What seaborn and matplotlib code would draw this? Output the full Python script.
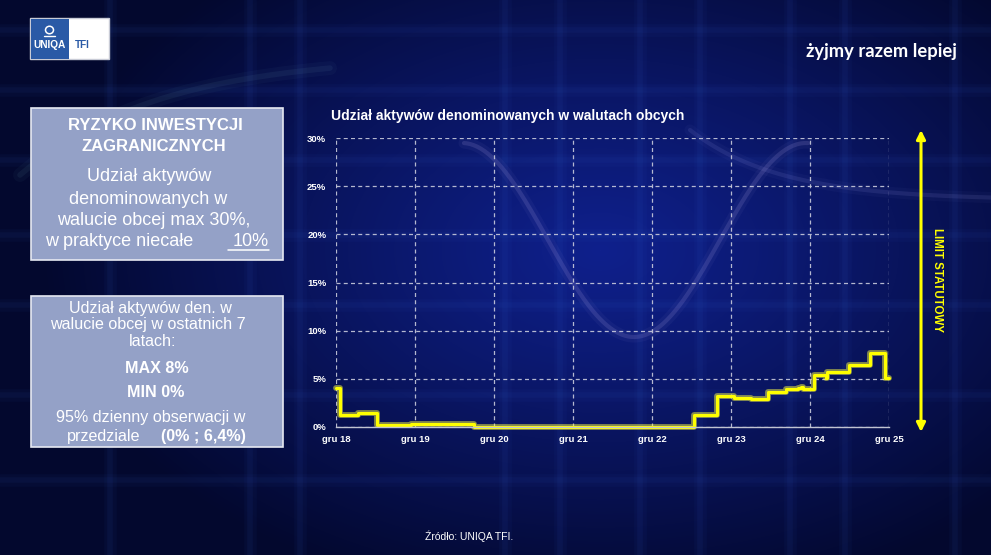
import numpy as np
import pandas as pd
import matplotlib
matplotlib.use("Agg")
import matplotlib.pyplot as plt
from matplotlib.patches import Rectangle, Ellipse
import seaborn as sns

# ---------------- data ----------------
dates = ["2018-12-01", "2018-12-21", "2019-03-13", "2019-06-09", "2019-11-15",
         "2020-03-01", "2020-04-15", "2020-09-01", "2021-06-01", "2022-07-01",
         "2023-06-12", "2023-09-30", "2023-12-15", "2024-03-01", "2024-05-19",
         "2024-08-13", "2024-10-08", "2024-10-19", "2024-10-28", "2024-12-17",
         "2025-02-12", "2025-02-17", "2025-05-30", "2025-09-03", "2025-11-11",
         "2025-12-01"]
values = [4.07, 1.28, 1.45, 0.24, 0.27,
          0.33, 0.28, 0.04, 0.02, 0.03,
          1.20, 3.20, 3.05, 2.95, 3.60,
          3.90, 4.05, 4.20, 3.97, 5.40,
          5.07, 5.76, 6.45, 7.65, 5.07,
          5.07]
y_ticks = [0, 5, 10, 15, 20, 25, 30]
y_tick_labels = ["0%", "5%", "10%", "15%", "20%", "25%", "30%"]
x_tick_dates = ["2018-12-01", "2019-12-01", "2020-12-01", "2021-12-01",
                "2022-12-01", "2023-12-01", "2024-12-01", "2025-12-01"]
x_tick_labels = ["gru 18", "gru 19", "gru 20", "gru 21", "gru 22",
                 "gru 23", "gru 24", "gru 25"]

title = "Udział aktywów denominowanych w walutach obcych"
box1_head = ["RYZYKO INWESTYCJI", "ZAGRANICZNYCH"]
box1_body = ["Udział aktywów", "denominowanych w", "walucie obcej max 30%,"]
box1_last = ["w praktyce niecałe", "10%"]
box2_lines = ["Udział aktywów den. w", "walucie obcej w ostatnich 7", "latach:"]
box2_bold = ["MAX 8%", "MIN 0%"]
box2_tail = ["95% dzienny obserwacji w", "przedziale", "(0% ; 6,4%)"]
slogan = "żyjmy razem lepiej"
source = "Źródło: UNIQA TFI."
limit_label = "LIMIT STATUTOWY"

df = pd.DataFrame({"date": pd.to_datetime(dates), "value": values})

# ---------------- style ----------------
sns.set_theme(style="dark")
plt.rcParams['font.family'] = ['Liberation Sans', 'DejaVu Sans']

W, H = 991, 555
fig = plt.figure(figsize=(W / 100, H / 100), dpi=100)

# background layer in pixel coordinates
bg = fig.add_axes([0, 0, 1, 1])
bg.set_xlim(0, W)
bg.set_ylim(H, 0)
bg.axis('off')
yy, xx = np.mgrid[0:H, 0:W]
d = np.sqrt(((xx - 600) / 560) ** 2 + ((yy - 250) / 360) ** 2)
t = np.clip(d, 0, 1) ** 1.1
c0 = np.array([15, 32, 140]) / 255
c1 = np.array([3, 8, 46]) / 255
img = c0[None, None, :] * (1 - t[..., None]) + c1[None, None, :] * t[..., None]
bg.imshow(img, extent=(0, W, H, 0), aspect='auto', zorder=0, interpolation='bilinear')

# faint blurred background grid / curves (decorative)
glow = (0.25, 0.45, 0.9)
for x in [110, 250, 300, 505, 560, 640, 700, 790, 845, 955]:
    for lw, a in [(9, 0.04), (4, 0.06)]:
        bg.plot([x, x], [0, H], color=glow, lw=lw, alpha=a, zorder=1)
for y in [30, 90, 160, 235, 305, 395, 480]:
    for lw, a in [(9, 0.04), (4, 0.05)]:
        bg.plot([0, W], [y, y], color=glow, lw=lw, alpha=a, zorder=1)
cx = np.linspace(464, 808, 300)
cy = 240 + 97 * np.cos(2 * np.pi * (cx - 634) / 344)
for lw, a in [(8, 0.05), (3, 0.16)]:
    bg.plot(cx, cy, color=(0.7, 0.65, 0.9), lw=lw, alpha=a, zorder=1,
            solid_capstyle='round')
cx3 = np.linspace(690, 991, 200)
cy3 = 130 + 70 * (1 - np.exp(-(cx3 - 690) / 90))
for lw, a in [(8, 0.04), (3, 0.12)]:
    bg.plot(cx3, cy3, color=(0.6, 0.6, 0.9), lw=lw, alpha=a, zorder=1)
cx2 = np.linspace(20, 330, 200)
cy2 = 175 - 120 * (1 - np.exp(-(cx2 - 20) / 140))
for lw, a in [(10, 0.04), (4, 0.07)]:
    bg.plot(cx2, cy2, color=(0.5, 0.75, 0.8), lw=lw, alpha=a, zorder=1)

# ---------------- logo ----------------
bg.add_patch(Rectangle((30, 18), 79, 41, facecolor='white', edgecolor='#c8cbd6',
                       lw=1, zorder=3))
bg.add_patch(Rectangle((30.5, 18.5), 38.5, 40, facecolor='#2a5aa6', edgecolor='none',
                       zorder=4))
bg.add_patch(Ellipse((49.5, 30), 8, 7.5, facecolor='none', edgecolor='white',
                     lw=1.1, zorder=5))
bg.plot([44, 55], [36, 36], color='white', lw=1.0, zorder=5)
bg.text(49.5, 45, "UNIQA", color='white', fontsize=7.3, fontweight='bold',
        ha='center', va='center', zorder=5)
bg.text(82, 45, "TFI", color='#2a5aa6', fontsize=7.2, fontweight='bold',
        ha='center', va='center', zorder=5)

# slogan
bg.text(881, 51, slogan, color='white', fontsize=13.2, fontweight='bold',
        family=['Lato', 'DejaVu Sans'], ha='center', va='center', zorder=5)

# ---------------- boxes ----------------
box_fc = '#94a1c7'
bg.add_patch(Rectangle((30.5, 107.5), 252, 152.5, facecolor=box_fc,
                       edgecolor='#e6e9f2', lw=1.2, zorder=3))
bg.add_patch(Rectangle((30.5, 296), 252, 151, facecolor=box_fc,
                       edgecolor='#e6e9f2', lw=1.2, zorder=3))

bg.text(155, 125, box1_head[0], color='white', fontsize=12, fontweight='bold',
        ha='center', va='center', zorder=5)
bg.text(154, 146.5, box1_head[1], color='white', fontsize=12, fontweight='bold',
        ha='center', va='center', zorder=5)
for yv, s, xc in zip([176.5, 199, 220.5], box1_body, [149, 148, 154]):
    bg.text(xc, yv, s, color='white', fontsize=13, ha='center', va='center', zorder=5)
bg.text(45, 241, box1_last[0], color='white', fontsize=13, ha='left',
        va='center', zorder=5)
bg.text(269, 241, box1_last[1], color='white', fontsize=13, ha='right',
        va='center', zorder=5)
bg.plot([228, 269], [249.5, 249.5], color='white', lw=1.1, zorder=5)

for yv, s, xc in zip([308.5, 325, 341.5], box2_lines, [150, 147.5, 152.5]):
    bg.text(xc, yv, s, color='white', fontsize=11.6, ha='center', va='center', zorder=5)
for yv, s, xc in zip([368.5, 392.5], box2_bold, [156.5, 155.5]):
    bg.text(xc, yv, s, color='white', fontsize=11.6, fontweight='bold',
            ha='center', va='center', zorder=5)
bg.text(151, 417.5, box2_tail[0], color='white', fontsize=11.6, ha='center',
        va='center', zorder=5)
bg.text(67, 437, box2_tail[1], color='white', fontsize=11.6, ha='left',
        va='center', zorder=5)
bg.text(246, 437, box2_tail[2], color='white', fontsize=11.6, fontweight='bold',
        ha='right', va='center', zorder=5)

# chart title
bg.text(331, 116, title, color='white', fontsize=10, fontweight='bold',
        ha='left', va='center', zorder=5)

# limit arrow
bg.annotate('', xy=(921, 130), xytext=(921, 432),
            arrowprops=dict(arrowstyle='<|-|>', color='#ffff00', lw=2.2,
                            mutation_scale=13, shrinkA=0, shrinkB=0), zorder=5)
bg.text(937, 280, limit_label, color='#ffff00', fontsize=8.3, fontweight='bold',
        rotation=-90, ha='center', va='center', zorder=5)

# source
bg.text(425, 536, source, color='white', fontsize=7.5, ha='left', va='center',
        zorder=5)

# ---------------- chart ----------------
ax = fig.add_axes([336 / W, 1 - 427 / H, 553 / W, 289 / H])
ax.set_facecolor('none')
ax.patch.set_alpha(0)

sns.lineplot(data=df, x="date", y="value", ax=ax, drawstyle='steps-post',
             color='#ffff40', linewidth=4.2, alpha=0.5, clip_on=False)
sns.lineplot(data=df, x="date", y="value", ax=ax, drawstyle='steps-post',
             color='#ffff00', linewidth=2.2, clip_on=False)

ax.set_xlim(pd.Timestamp(x_tick_dates[0]), pd.Timestamp(x_tick_dates[-1]))
ax.set_ylim(0, 30)
ax.set_yticks(y_ticks)
ax.set_yticklabels(y_tick_labels)
ax.set_xticks(pd.to_datetime(x_tick_dates))
ax.set_xticklabels(x_tick_labels)
ax.set_xlabel("")
ax.set_ylabel("")
ax.grid(True, color='#c9cbdc', linestyle=(0, (3.2, 2.6)), linewidth=0.9, alpha=0.9)
ax.set_axisbelow(True)
for side in ['top', 'right', 'left']:
    ax.spines[side].set_visible(False)
ax.spines['bottom'].set_visible(True)
ax.spines['bottom'].set_color('#c0c3d2')
ax.spines['bottom'].set_linewidth(1.0)
ax.tick_params(axis='both', length=0, colors='white', labelsize=6.8)
ax.tick_params(axis='y', pad=7)
ax.tick_params(axis='x', pad=6)
for lab in ax.get_xticklabels() + ax.get_yticklabels():
    lab.set_fontweight('bold')
    lab.set_color('white')

fig.savefig("out.png", dpi=100, facecolor=fig.get_facecolor())
